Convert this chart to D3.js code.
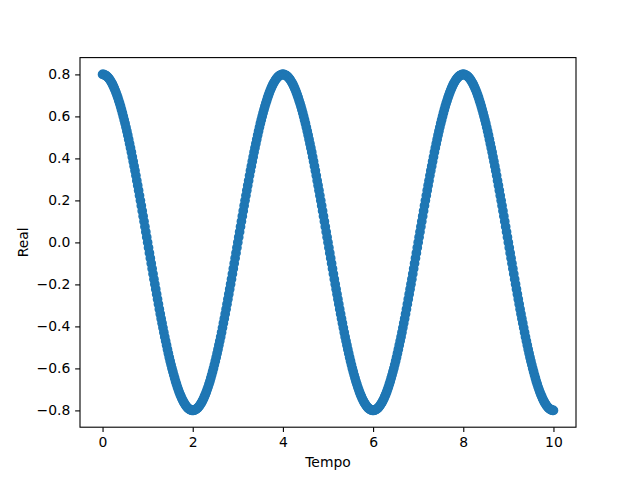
<!DOCTYPE html>
<html>
<head>
<meta charset="utf-8">
<script src="https://cdn.jsdelivr.net/npm/d3@7"></script>
<style>
body { margin: 0; background: #fff; }
svg { display: block; }
text { font-family: "DejaVu Sans", sans-serif; }
</style>
</head>
<body>
<svg id="chart" width="640" height="480"></svg>
<script>
// Sample times (x)
const tempo = [
0,0.02,0.04,0.06,0.08,0.1,0.12,0.14,0.16,0.18,0.2,0.22,0.24,0.26,0.28,0.3,0.32,0.34,0.36,0.38,0.4,0.42,0.44,0.46,0.48,0.5,0.52,0.54,0.56,0.58,0.6,0.62,0.64,0.66,0.68,0.7,0.72,0.74,0.76,0.78,0.8,0.82,0.84,0.86,0.88,0.9,0.92,0.94,0.96,0.98,
1,1.02,1.04,1.06,1.08,1.1,1.12,1.14,1.16,1.18,1.2,1.22,1.24,1.26,1.28,1.3,1.32,1.34,1.36,1.38,1.4,1.42,1.44,1.46,1.48,1.5,1.52,1.54,1.56,1.58,1.6,1.62,1.64,1.66,1.68,1.7,1.72,1.74,1.76,1.78,1.8,1.82,1.84,1.86,1.88,1.9,1.92,1.94,1.96,1.98,
2,2.02,2.04,2.06,2.08,2.1,2.12,2.14,2.16,2.18,2.2,2.22,2.24,2.26,2.28,2.3,2.32,2.34,2.36,2.38,2.4,2.42,2.44,2.46,2.48,2.5,2.52,2.54,2.56,2.58,2.6,2.62,2.64,2.66,2.68,2.7,2.72,2.74,2.76,2.78,2.8,2.82,2.84,2.86,2.88,2.9,2.92,2.94,2.96,2.98,
3,3.02,3.04,3.06,3.08,3.1,3.12,3.14,3.16,3.18,3.2,3.22,3.24,3.26,3.28,3.3,3.32,3.34,3.36,3.38,3.4,3.42,3.44,3.46,3.48,3.5,3.52,3.54,3.56,3.58,3.6,3.62,3.64,3.66,3.68,3.7,3.72,3.74,3.76,3.78,3.8,3.82,3.84,3.86,3.88,3.9,3.92,3.94,3.96,3.98,
4,4.02,4.04,4.06,4.08,4.1,4.12,4.14,4.16,4.18,4.2,4.22,4.24,4.26,4.28,4.3,4.32,4.34,4.36,4.38,4.4,4.42,4.44,4.46,4.48,4.5,4.52,4.54,4.56,4.58,4.6,4.62,4.64,4.66,4.68,4.7,4.72,4.74,4.76,4.78,4.8,4.82,4.84,4.86,4.88,4.9,4.92,4.94,4.96,4.98,
5,5.02,5.04,5.06,5.08,5.1,5.12,5.14,5.16,5.18,5.2,5.22,5.24,5.26,5.28,5.3,5.32,5.34,5.36,5.38,5.4,5.42,5.44,5.46,5.48,5.5,5.52,5.54,5.56,5.58,5.6,5.62,5.64,5.66,5.68,5.7,5.72,5.74,5.76,5.78,5.8,5.82,5.84,5.86,5.88,5.9,5.92,5.94,5.96,5.98,
6,6.02,6.04,6.06,6.08,6.1,6.12,6.14,6.16,6.18,6.2,6.22,6.24,6.26,6.28,6.3,6.32,6.34,6.36,6.38,6.4,6.42,6.44,6.46,6.48,6.5,6.52,6.54,6.56,6.58,6.6,6.62,6.64,6.66,6.68,6.7,6.72,6.74,6.76,6.78,6.8,6.82,6.84,6.86,6.88,6.9,6.92,6.94,6.96,6.98,
7,7.02,7.04,7.06,7.08,7.1,7.12,7.14,7.16,7.18,7.2,7.22,7.24,7.26,7.28,7.3,7.32,7.34,7.36,7.38,7.4,7.42,7.44,7.46,7.48,7.5,7.52,7.54,7.56,7.58,7.6,7.62,7.64,7.66,7.68,7.7,7.72,7.74,7.76,7.78,7.8,7.82,7.84,7.86,7.88,7.9,7.92,7.94,7.96,7.98,
8,8.02,8.04,8.06,8.08,8.1,8.12,8.14,8.16,8.18,8.2,8.22,8.24,8.26,8.28,8.3,8.32,8.34,8.36,8.38,8.4,8.42,8.44,8.46,8.48,8.5,8.52,8.54,8.56,8.58,8.6,8.62,8.64,8.66,8.68,8.7,8.72,8.74,8.76,8.78,8.8,8.82,8.84,8.86,8.88,8.9,8.92,8.94,8.96,8.98,
9,9.02,9.04,9.06,9.08,9.1,9.12,9.14,9.16,9.18,9.2,9.22,9.24,9.26,9.28,9.3,9.32,9.34,9.36,9.38,9.4,9.42,9.44,9.46,9.48,9.5,9.52,9.54,9.56,9.58,9.6,9.62,9.64,9.66,9.68,9.7,9.72,9.74,9.76,9.78,9.8,9.82,9.84,9.86,9.88,9.9,9.92,9.94,9.96,9.98,
10
];

// Measured values (y), one per sample time
const real = [
0.8,0.8,0.798,0.796,0.794,0.79,0.786,0.781,0.775,0.768,0.761,0.753,0.744,0.734,0.724,0.713,0.701,0.689,0.675,0.662,0.647,0.632,0.616,0.6,0.583,0.566,0.548,0.529,0.51,0.49,0.47,0.45,0.429,0.407,0.385,0.363,0.341,0.318,0.294,0.271,0.247,0.223,0.199,0.175,0.15,0.125,0.1,0.075,0.05,0.025,
0,-0.025,-0.05,-0.075,-0.1,-0.125,-0.15,-0.175,-0.199,-0.223,-0.247,-0.271,-0.294,-0.318,-0.341,-0.363,-0.385,-0.407,-0.429,-0.45,-0.47,-0.49,-0.51,-0.529,-0.548,-0.566,-0.583,-0.6,-0.616,-0.632,-0.647,-0.662,-0.675,-0.689,-0.701,-0.713,-0.724,-0.734,-0.744,-0.753,-0.761,-0.768,-0.775,-0.781,-0.786,-0.79,-0.794,-0.796,-0.798,-0.8,
-0.8,-0.8,-0.798,-0.796,-0.794,-0.79,-0.786,-0.781,-0.775,-0.768,-0.761,-0.753,-0.744,-0.734,-0.724,-0.713,-0.701,-0.689,-0.675,-0.662,-0.647,-0.632,-0.616,-0.6,-0.583,-0.566,-0.548,-0.529,-0.51,-0.49,-0.47,-0.45,-0.429,-0.407,-0.385,-0.363,-0.341,-0.318,-0.294,-0.271,-0.247,-0.223,-0.199,-0.175,-0.15,-0.125,-0.1,-0.075,-0.05,-0.025,
0,0.025,0.05,0.075,0.1,0.125,0.15,0.175,0.199,0.223,0.247,0.271,0.294,0.318,0.341,0.363,0.385,0.407,0.429,0.45,0.47,0.49,0.51,0.529,0.548,0.566,0.583,0.6,0.616,0.632,0.647,0.662,0.675,0.689,0.701,0.713,0.724,0.734,0.744,0.753,0.761,0.768,0.775,0.781,0.786,0.79,0.794,0.796,0.798,0.8,
0.8,0.8,0.798,0.796,0.794,0.79,0.786,0.781,0.775,0.768,0.761,0.753,0.744,0.734,0.724,0.713,0.701,0.689,0.675,0.662,0.647,0.632,0.616,0.6,0.583,0.566,0.548,0.529,0.51,0.49,0.47,0.45,0.429,0.407,0.385,0.363,0.341,0.318,0.294,0.271,0.247,0.223,0.199,0.175,0.15,0.125,0.1,0.075,0.05,0.025,
0,-0.025,-0.05,-0.075,-0.1,-0.125,-0.15,-0.175,-0.199,-0.223,-0.247,-0.271,-0.294,-0.318,-0.341,-0.363,-0.385,-0.407,-0.429,-0.45,-0.47,-0.49,-0.51,-0.529,-0.548,-0.566,-0.583,-0.6,-0.616,-0.632,-0.647,-0.662,-0.675,-0.689,-0.701,-0.713,-0.724,-0.734,-0.744,-0.753,-0.761,-0.768,-0.775,-0.781,-0.786,-0.79,-0.794,-0.796,-0.798,-0.8,
-0.8,-0.8,-0.798,-0.796,-0.794,-0.79,-0.786,-0.781,-0.775,-0.768,-0.761,-0.753,-0.744,-0.734,-0.724,-0.713,-0.701,-0.689,-0.675,-0.662,-0.647,-0.632,-0.616,-0.6,-0.583,-0.566,-0.548,-0.529,-0.51,-0.49,-0.47,-0.45,-0.429,-0.407,-0.385,-0.363,-0.341,-0.318,-0.294,-0.271,-0.247,-0.223,-0.199,-0.175,-0.15,-0.125,-0.1,-0.075,-0.05,-0.025,
0,0.025,0.05,0.075,0.1,0.125,0.15,0.175,0.199,0.223,0.247,0.271,0.294,0.318,0.341,0.363,0.385,0.407,0.429,0.45,0.47,0.49,0.51,0.529,0.548,0.566,0.583,0.6,0.616,0.632,0.647,0.662,0.675,0.689,0.701,0.713,0.724,0.734,0.744,0.753,0.761,0.768,0.775,0.781,0.786,0.79,0.794,0.796,0.798,0.8,
0.8,0.8,0.798,0.796,0.794,0.79,0.786,0.781,0.775,0.768,0.761,0.753,0.744,0.734,0.724,0.713,0.701,0.689,0.675,0.662,0.647,0.632,0.616,0.6,0.583,0.566,0.548,0.529,0.51,0.49,0.47,0.45,0.429,0.407,0.385,0.363,0.341,0.318,0.294,0.271,0.247,0.223,0.199,0.175,0.15,0.125,0.1,0.075,0.05,0.025,
0,-0.025,-0.05,-0.075,-0.1,-0.125,-0.15,-0.175,-0.199,-0.223,-0.247,-0.271,-0.294,-0.318,-0.341,-0.363,-0.385,-0.407,-0.429,-0.45,-0.47,-0.49,-0.51,-0.529,-0.548,-0.566,-0.583,-0.6,-0.616,-0.632,-0.647,-0.662,-0.675,-0.689,-0.701,-0.713,-0.724,-0.734,-0.744,-0.753,-0.761,-0.768,-0.775,-0.781,-0.786,-0.79,-0.794,-0.796,-0.798,-0.8,
-0.8
];

const xTicks = [0, 2, 4, 6, 8, 10];
const yTicks = [-0.8, -0.6, -0.4, -0.2, 0.0, 0.2, 0.4, 0.6, 0.8];
const xLabel = "Tempo";
const yLabel = "Real";

const W = 640, H = 480;
const mLeft = 80, mRight = 576, mTop = 57.6, mBottom = 427.2;
const svg = d3.select("#chart");

const xMin = d3.min(tempo), xMax = d3.max(tempo);
const yMin = d3.min(real), yMax = d3.max(real);
const xPad = (xMax - xMin) * 0.05, yPad = (yMax - yMin) * 0.05;

const x = d3.scaleLinear().domain([xMin - xPad, xMax + xPad]).range([mLeft, mRight]);
const y = d3.scaleLinear().domain([yMin - yPad, yMax + yPad]).range([mBottom, mTop]);

const data = tempo.map((t, i) => ({ t, v: real[i] }));

const plot = svg.append("g");
plot.selectAll("circle").data(data).enter().append("circle")
  .attr("cx", d => x(d.t))
  .attr("cy", d => y(d.v))
  .attr("r", 4.17)
  .attr("fill", "#1f77b4")
  .attr("stroke", "#1f77b4")
  .attr("stroke-width", 1.39);

const fmtY = v => d3.format(".1f")(v).replace("-", "\u2212");

const xAxis = svg.append("g").attr("transform", `translate(0,${mBottom})`)
  .call(d3.axisBottom(x).tickValues(xTicks).tickFormat(d3.format("d")).tickSize(4.86).tickPadding(4.86));
const yAxis = svg.append("g").attr("transform", `translate(${mLeft},0)`)
  .call(d3.axisLeft(y).tickValues(yTicks).tickFormat(fmtY).tickSize(4.86).tickPadding(4.86));

[xAxis, yAxis].forEach(a => {
  a.select(".domain").remove();
  a.selectAll(".tick line").attr("stroke", "#000").attr("stroke-width", 1.1);
  a.selectAll(".tick text").attr("fill", "#000").style("font-size", "13.9px")
    .style("font-family", "'DejaVu Sans', sans-serif");
});

svg.append("rect")
  .attr("x", mLeft).attr("y", mTop)
  .attr("width", mRight - mLeft).attr("height", mBottom - mTop)
  .attr("fill", "none").attr("stroke", "#000").attr("stroke-width", 1.1);

svg.append("text")
  .attr("x", (mLeft + mRight) / 2).attr("y", 467)
  .attr("text-anchor", "middle")
  .style("font-size", "13.9px")
  .text(xLabel);

svg.append("text")
  .attr("transform", `translate(28,${(mTop + mBottom) / 2}) rotate(-90)`)
  .attr("text-anchor", "middle")
  .style("font-size", "13.9px")
  .text(yLabel);
</script>
</body>
</html>
